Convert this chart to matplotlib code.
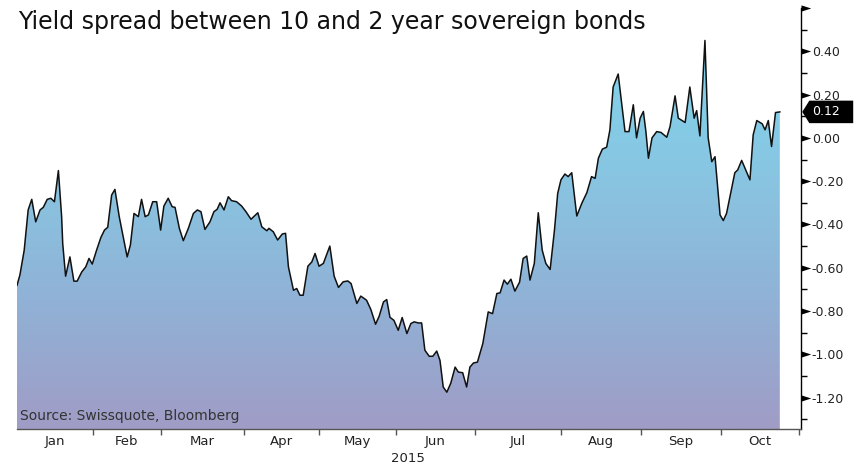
import numpy as np
import matplotlib
matplotlib.use("Agg")
import matplotlib.pyplot as plt
from matplotlib.colors import LinearSegmentedColormap
import matplotlib.transforms as mtransforms
from matplotlib.patches import Polygon
from matplotlib.path import Path

# trading-day position (from start of January) and 10y-2y spread
day = [0.0, 0.8, 2.0, 3.1, 4.1, 5.2, 6.4, 7.3, 8.4, 9.4, 10.4, 11.5, 12.4, 12.7, 13.5,
       14.7, 15.8, 16.7, 18.0, 19.1, 20.0, 20.9, 22.1, 23.3, 24.3, 25.2, 26.3, 27.2, 28.4,
       30.6, 31.5, 32.5, 33.7, 34.6, 35.6, 36.5, 37.7, 38.8, 39.9, 40.8, 42.0, 43.1, 43.9,
       45.1, 46.2, 47.6, 49.0, 50.1, 51.1, 52.2, 53.6, 54.7, 55.6, 56.4, 57.5, 58.7, 59.6,
       61.0, 62.4, 63.6, 65.0, 66.9, 68.0, 69.4, 70.0, 71.2, 72.4, 73.7, 74.6, 75.4, 76.8,
       77.7, 78.6, 79.5, 80.8, 81.9, 82.8, 83.9, 85.1, 86.9, 88.1, 89.3, 90.6, 91.9, 92.8,
       94.4, 95.5, 97.1, 98.3, 99.6, 100.6, 101.8, 102.7, 103.6, 104.7, 105.9, 107.0, 108.3,
       109.4, 110.3, 111.5, 112.4, 113.3, 114.5, 115.5, 116.6, 117.5, 118.4, 119.4, 120.5,
       121.7, 122.6, 123.8, 124.9, 125.8, 126.8, 127.9, 129.4, 130.9, 132.1, 133.3, 134.2,
       135.3, 136.2, 137.2, 138.3, 139.6, 140.6, 141.6, 142.5, 143.7, 144.8, 145.9, 146.9,
       148.1, 149.3, 150.2, 151.1, 152.2, 153.1, 154.1, 155.5, 156.9, 158.3, 159.6, 160.6,
       161.5, 162.6, 163.8, 164.7, 165.6, 167.0, 168.0, 168.9, 170.0, 171.2, 172.1, 173.1,
       174.0, 174.7, 175.4, 176.4, 177.7, 178.9, 180.5, 181.4, 182.8, 183.7, 185.6, 186.9,
       188.1, 188.8, 189.7, 191.1, 192.0, 193.0, 193.9, 195.3, 196.2, 197.1, 199.4, 200.2,
       201.3, 203.6, 204.5, 205.5, 207.0, 207.8, 208.7, 209.6, 210.7, 211.9]
spread = [-0.681, -0.634, -0.519, -0.333, -0.284, -0.388, -0.333, -0.321, -0.284, -0.279,
          -0.295, -0.151, -0.364, -0.488, -0.639, -0.550, -0.662, -0.662, -0.619, -0.596,
          -0.557, -0.583, -0.519, -0.460, -0.426, -0.413, -0.264, -0.238, -0.364, -0.550,
          -0.495, -0.349, -0.364, -0.284, -0.364, -0.356, -0.295, -0.295, -0.426, -0.315,
          -0.279, -0.318, -0.321, -0.418, -0.475, -0.418, -0.349, -0.333, -0.341, -0.423,
          -0.388, -0.341, -0.330, -0.300, -0.333, -0.272, -0.290, -0.295, -0.315, -0.341,
          -0.376, -0.346, -0.411, -0.429, -0.418, -0.434, -0.472, -0.444, -0.441, -0.596,
          -0.704, -0.696, -0.727, -0.727, -0.593, -0.573, -0.534, -0.593, -0.580, -0.500,
          -0.639, -0.691, -0.665, -0.661, -0.673, -0.765, -0.731, -0.750, -0.793, -0.861,
          -0.824, -0.758, -0.747, -0.829, -0.843, -0.889, -0.830, -0.904, -0.858, -0.850,
          -0.855, -0.855, -0.981, -1.009, -1.009, -0.985, -1.028, -1.151, -1.175, -1.133,
          -1.059, -1.082, -1.085, -1.151, -1.059, -1.040, -1.036, -0.950, -0.804, -0.812,
          -0.719, -0.716, -0.657, -0.676, -0.653, -0.708, -0.667, -0.557, -0.546, -0.657,
          -0.580, -0.346, -0.519, -0.580, -0.608, -0.426, -0.256, -0.194, -0.167, -0.179,
          -0.161, -0.361, -0.302, -0.253, -0.179, -0.187, -0.094, -0.052, -0.043, 0.037,
          0.235, 0.295, 0.153, 0.029, 0.029, 0.153, 0.000, 0.091, 0.122, 0.029, -0.094,
          0.000, 0.029, 0.025, 0.003, 0.052, 0.194, 0.091, 0.071, 0.235, 0.091, 0.126,
          0.009, 0.450, 0.000, -0.110, -0.087, -0.356, -0.382, -0.349, -0.161, -0.148,
          -0.104, -0.194, 0.014, 0.080, 0.065, 0.037, 0.080, -0.040, 0.117, 0.120]

months = ["Jan", "Feb", "Mar", "Apr", "May", "Jun", "Jul", "Aug", "Sep", "Oct"]
month_edges = [0.0, 21.0, 40.0, 63.1, 84.0, 105.2, 127.1, 151.2, 173.3, 195.6, 217.2]
y_ticks = [-1.2, -1.0, -0.8, -0.6, -0.4, -0.2, 0.0, 0.2, 0.4]
last_value = 0.12

xmin, xmax = 0.0, 217.7
ymin, ymax = -1.345, 0.60

fig = plt.figure(figsize=(8.67, 4.69), dpi=100)
ax = fig.add_axes([17 / 867, 40 / 469, (800.7 - 17) / 867, (429 - 8) / 469])

# gradient area under the line
poly = ax.fill_between(day, spread, ymin, color="none", lw=0)
cmap = LinearSegmentedColormap.from_list("sky", ["#80d4ec", "#88c6e2", "#90b2d6", "#a09cc6"])
grad = np.linspace(0, 1, 256).reshape(-1, 1)
im = ax.imshow(grad, cmap=cmap, aspect="auto", origin="upper",
               extent=[xmin, xmax, ymin, 0.45], zorder=1)
im.set_clip_path(poly.get_paths()[0], transform=ax.transData)
ax.plot(day, spread, color="#111111", lw=1.1, zorder=3)

ax.set_xlim(xmin, xmax)
ax.set_ylim(ymin, ymax)

# spines
for s in ["left", "top"]:
    ax.spines[s].set_visible(False)
ax.spines["right"].set_color("black")
ax.spines["right"].set_linewidth(1.0)
ax.spines["bottom"].set_color("#555555")
ax.spines["bottom"].set_linewidth(1.0)

# y axis on the right
ax.yaxis.tick_right()
ax.set_yticks(y_ticks)
ax.set_yticklabels(["%.2f" % v for v in y_ticks], fontsize=9, color="#222222")
ax.set_yticks(np.arange(-1.3, 0.6, 0.2), minor=True)
ax.tick_params(axis="y", which="major", length=0, pad=8)
ax.tick_params(axis="y", which="minor", length=4, width=1, color="black", direction="out")
trans_y = mtransforms.blended_transform_factory(ax.transAxes, ax.transData)
arrow = Path([(0, -0.32), (1, 0), (0, 0.32), (0, -0.32)])
ax.plot([1.0] * (len(y_ticks) + 1), y_ticks + [0.6], linestyle="none", marker=arrow,
        markersize=14, color="black", markeredgewidth=0, transform=trans_y,
        clip_on=False, zorder=5)

# x axis months
mids = [(a + b) / 2 for a, b in zip(month_edges[:-1], month_edges[1:])]
ax.set_xticks(mids)
ax.set_xticklabels(months, fontsize=9.5, color="#222222")
ax.set_xticks(month_edges[1:], minor=True)
ax.tick_params(axis="x", which="major", length=0, pad=4)
ax.tick_params(axis="x", which="minor", length=4, width=1, color="#555555", direction="out")

# last value tag
tag = Polygon([[1.002, last_value], [1.011, last_value + 0.052], [1.067, last_value + 0.052],
               [1.067, last_value - 0.052], [1.011, last_value - 0.052]],
              closed=True, facecolor="black", edgecolor="none", transform=trans_y,
              clip_on=False, zorder=6)
ax.add_patch(tag)
ax.text(1.0145, last_value, "%.2f" % last_value, transform=trans_y, color="white",
        fontsize=9, va="center", ha="left", zorder=7, clip_on=False)

# texts
fig.text(18 / 867, 1 - 22 / 469, "Yield spread between 10 and 2 year sovereign bonds",
         fontsize=17, va="center", ha="left", color="#111111")
ax.text(0.004, 0.032, "Source: Swissquote, Bloomberg", transform=ax.transAxes,
        fontsize=10, color="#333333", va="center", ha="left", zorder=4)
fig.text(408 / 867, 1 - 458 / 469, "2015", fontsize=9.5, ha="center", va="center",
         color="#222222")

fig.savefig("out.png", dpi=100)
